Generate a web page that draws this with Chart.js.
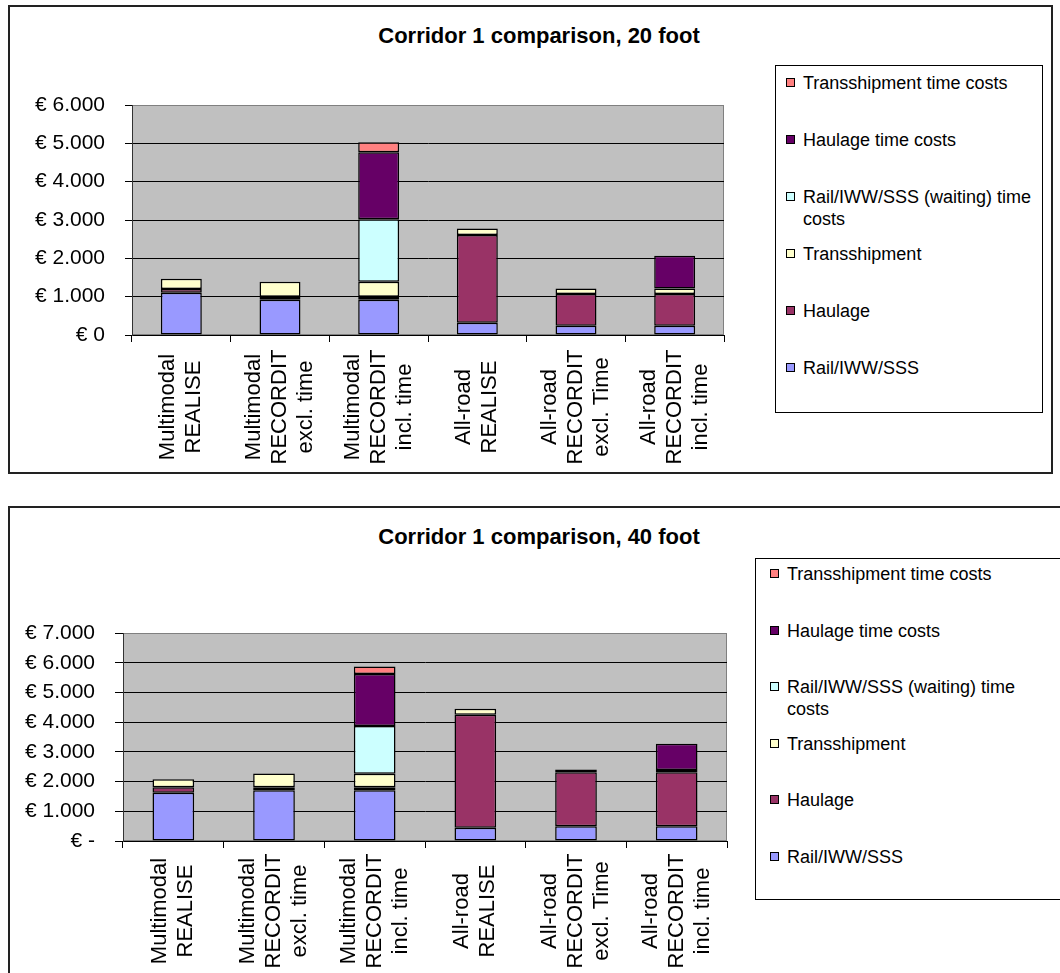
<!DOCTYPE html>
<html>
<head>
<meta charset="utf-8">
<script src="https://cdn.jsdelivr.net/npm/chart.js@4/dist/chart.umd.min.js"></script>
<style>
    body { margin: 0; width: 1060px; height: 973px; overflow: hidden; position: relative; background: #fff; font-family: Arial, "Liberation Sans", sans-serif; }
    .marco { position: absolute; border: 2px solid #222; box-sizing: border-box; }
    .titulo { position: absolute; left: 0; width: 1078px; text-align: center; font-weight: bold; font-size: 22px; line-height: 26px; }
    canvas { position: absolute; left: 0; }
    .leyenda { position: absolute; border: 1px solid #000; box-sizing: border-box; background: #fff; }
    .item { position: absolute; font-size: 18px; line-height: 22px; }
    .item .cuadro { position: absolute; left: 0; top: 6px; width: 9px; height: 9px; border: 1px solid #000; box-sizing: border-box; }
    .item .texto { position: absolute; top: 0; white-space: normal; }
</style>
</head>
<body>
<div class="marco" style="left:8px;top:5px;width:1045px;height:469px"></div>
<div class="marco" style="left:8px;top:506px;width:1100px;height:600px"></div>

<div class="titulo" style="top:23px">Corridor 1 comparison, 20 foot</div>
<div class="titulo" style="top:524px">Corridor 1 comparison, 40 foot</div>

<canvas id="chart20" width="1060" height="490" style="top:0"></canvas>
<canvas id="chart40" width="1060" height="483" style="top:490px"></canvas>

<div class="leyenda" id="leyenda20" style="left:775px;top:65px;width:268px;height:348px"></div>
<div class="leyenda" id="leyenda40" style="left:755px;top:558px;width:320px;height:342px"></div>

<script>
// Categorías (cada una en varias líneas)
const categorias = [
    ['Multimodal', 'REALISE'],
    ['Multimodal', 'RECORDIT', 'excl. time'],
    ['Multimodal', 'RECORDIT', 'incl. time'],
    ['All-road', 'REALISE'],
    ['All-road', 'RECORDIT', 'excl. Time'],
    ['All-road', 'RECORDIT', 'incl. time']
];

// Series, de abajo hacia arriba en la pila
const series = ['Rail/IWW/SSS', 'Haulage', 'Transshipment', 'Rail/IWW/SSS (waiting) time costs', 'Haulage time costs', 'Transshipment time costs'];
const colores = ['#9999FF', '#993366', '#FFFFCC', '#CCFFFF', '#660066', '#FF8080'];

// Contenedor de 20 pies (€)
const rail20 = [1100, 920, 920, 320, 240, 240];
const haulage20 = [100, 80, 80, 2290, 830, 830];
const transship20 = [270, 390, 390, 170, 140, 140];
const espera20 = [null, null, 1630, null, null, null];
const haulageTiempo20 = [null, null, 1750, null, null, 860];
const transshipTiempo20 = [null, null, 260, null, null, null];
const ticks20 = [0, 1000, 2000, 3000, 4000, 5000, 6000];

// Contenedor de 40 pies (€)
const rail40 = [1620, 1710, 1710, 450, 500, 500];
const haulage40 = [190, 100, 100, 3800, 1810, 1810];
const transship40 = [270, 460, 450, 200, 100, 80];
const espera40 = [null, null, 1610, null, null, null];
const haulageTiempo40 = [null, null, 1750, null, null, 880];
const transshipTiempo40 = [null, null, 250, null, null, null];
const ticks40 = [0, 1000, 2000, 3000, 4000, 5000, 6000, 7000];

Chart.defaults.font.family = 'Arial, "Liberation Sans", sans-serif';
Chart.defaults.color = '#000';

// Formato de euros con punto de miles
function euros(v, cero) {
    if (v === 0) return cero;
    return '€ ' + String(v).replace(/\B(?=(\d{3})+(?!\d))/g, '.');
}

// Fondo gris del área de trazado
const fondoGris = {
    id: 'fondoGris',
    beforeDraw(chart) {
        const { ctx, chartArea: a } = chart;
        ctx.save();
        ctx.fillStyle = '#C0C0C0';
        ctx.fillRect(a.left, a.top, a.width, a.height);
        ctx.strokeStyle = '#808080';
        ctx.lineWidth = 1;
        ctx.strokeRect(a.left + 0.5, a.top + 0.5, a.width - 1, a.height - 1);
        ctx.restore();
    }
};

// Etiquetas del eje X giradas y centradas línea por línea
const etiquetasX = {
    id: 'etiquetasX',
    afterDraw(chart, args, opts) {
        const { ctx } = chart;
        const eje = chart.scales.x;
        ctx.save();
        ctx.font = '22px Arial, "Liberation Sans", sans-serif';
        ctx.fillStyle = '#000';
        ctx.textAlign = 'center';
        ctx.textBaseline = 'middle';
        chart.data.labels.forEach((lineas, i) => {
            ctx.save();
            ctx.translate(eje.getPixelForValue(i), eje.top + opts.offset);
            ctx.rotate(-Math.PI / 2);
            lineas.forEach((linea, j) => {
                ctx.fillText(linea, 0, (j - (lineas.length - 1) / 2) * opts.interlinea);
            });
            ctx.restore();
        });
        ctx.restore();
    }
};

function crearGrafico(id, valores, ticks, cero, caja) {
    const maximo = ticks[ticks.length - 1];
    const ctx = document.getElementById(id).getContext('2d');
    return new Chart(ctx, {
        type: 'bar',
        data: {
            labels: categorias,
            datasets: series.map((nombre, i) => ({
                label: nombre,
                data: valores[i],
                backgroundColor: colores[i],
                borderColor: '#000',
                borderWidth: 1.5,
                borderSkipped: false,
                categoryPercentage: 1,
                barPercentage: caja.barra
            }))
        },
        options: {
            responsive: false,
            animation: false,
            layout: {
                padding: { left: 0, top: caja.top, right: caja.right, bottom: 0 }
            },
            plugins: {
                legend: { display: false },
                tooltip: { enabled: false },
                etiquetasX: { offset: caja.offsetX, interlinea: 26 }
            },
            scales: {
                x: {
                    stacked: true,
                    afterFit: (s) => { s.height = caja.altoX; },
                    grid: {
                        offset: true,
                        drawOnChartArea: false,
                        drawTicks: true,
                        tickLength: 7,
                        color: '#000'
                    },
                    border: { display: true, color: '#000', width: 1 },
                    ticks: { display: false }
                },
                y: {
                    stacked: true,
                    min: 0,
                    max: maximo,
                    afterFit: (s) => { s.width = caja.anchoY; },
                    afterBuildTicks: (s) => { s.ticks = ticks.map(v => ({ value: v })); },
                    grid: {
                        color: (c) => c.tick && c.tick.value === maximo ? '#808080' : '#000',
                        tickColor: '#000',
                        tickLength: caja.marcaY,
                        lineWidth: 1
                    },
                    border: { display: true, color: '#333', width: 1 },
                    ticks: {
                        padding: 20,
                        font: { size: 21 },
                        color: '#000',
                        callback: (v) => euros(v, cero)
                    }
                }
            }
        },
        plugins: [fondoGris, etiquetasX]
    });
}

// Leyenda HTML en orden inverso a la pila
function crearLeyenda(id, pos) {
    const cont = document.getElementById(id);
    const orden = series.map((s, i) => i).reverse();
    orden.forEach((i, k) => {
        const item = document.createElement('div');
        item.className = 'item';
        item.style.left = pos.cuadro + 'px';
        item.style.top = (pos.primero + k * pos.paso - 11) + 'px';
        item.innerHTML = '<span class="cuadro" style="background:' + colores[i] + '"></span>' +
            '<span class="texto" style="left:' + (pos.texto - pos.cuadro) + 'px;width:' + pos.ancho + 'px">' + series[i] + '</span>';
        cont.appendChild(item);
    });
}

crearGrafico('chart20',
    [rail20, haulage20, transship20, espera20, haulageTiempo20, transshipTiempo20],
    ticks20, '€ 0',
    { top: 105, right: 336, anchoY: 132, altoX: 155, marcaY: 7, offsetX: 72, barra: 0.415 });

crearGrafico('chart40',
    [rail40, haulage40, transship40, espera40, haulageTiempo40, transshipTiempo40],
    ticks40, '€ -',
    { top: 143, right: 333, anchoY: 123, altoX: 132, marcaY: 8, offsetX: 70, barra: 0.414 });

crearLeyenda('leyenda20', { cuadro: 10, texto: 27, primero: 17, paso: 57, ancho: 236 });
crearLeyenda('leyenda40', { cuadro: 14, texto: 31, primero: 15, paso: 56.5, ancho: 250 });
</script>
</body>
</html>
